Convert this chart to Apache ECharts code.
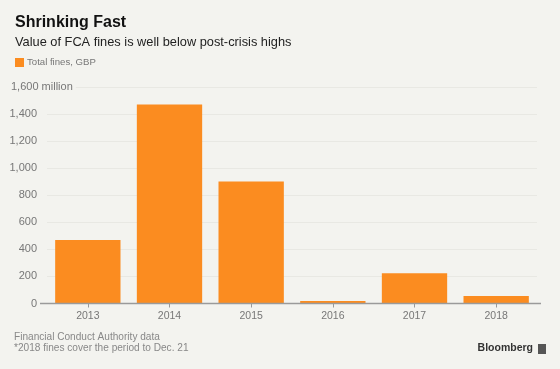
<!DOCTYPE html>
<html><head><meta charset="utf-8">
<script src="https://cdn.jsdelivr.net/npm/echarts@6/dist/echarts.min.js"></script>
<style>html,body{margin:0;padding:0;background:#f3f3ef;}#c{width:560px;height:369px;}</style>
</head><body><div id="c"></div>
<script>
const categories = ['2013','2014','2015','2016','2017','2018'];
const fines = [470, 1470, 902, 18, 224, 56];
const yTicks = [0, 200, 400, 600, 800, 1000, 1200, 1400, 1600];
const seriesName = 'Total fines, GBP';

const FONT = '"Liberation Sans", Arial, Helvetica, sans-serif';
const chart = echarts.init(document.getElementById('c'));
const gridTop = 87, gridBottom = 65.5;
chart.setOption({
  backgroundColor: '#f3f3ef',
  animation: false,
  textStyle: { fontFamily: FONT },
  grid: { left: 47, right: 23, top: gridTop, bottom: gridBottom, containLabel: false },
  xAxis: {
    type: 'category', data: categories,
    axisLine: { show: false },
    axisTick: { show: true, alignWithLabel: true, length: 4, lineStyle: { color: '#999' } },
    axisLabel: { color: '#777', fontSize: 10.5, fontFamily: FONT, margin: 7 }
  },
  yAxis: {
    type: 'value', min: yTicks[0], max: yTicks[yTicks.length-1], interval: 200,
    axisLine: { show: false }, axisTick: { show: false },
    splitLine: { lineStyle: { color: '#e8e8e3', width: 1 } },
    axisLabel: {
      color: '#777', fontSize: 11, fontFamily: FONT, margin: 10,
      formatter: v => v === yTicks[yTicks.length-1] ? '' : v.toLocaleString('en-US')
    }
  },
  series: [{
    name: seriesName, type: 'bar', data: fines, barCategoryGap: '20%',
    itemStyle: { color: '#fb8c20' }
  }],
  graphic: [
    { type: 'text', left: 15, top: 15, style: { text: 'Shrinking Fast', font: 'bold 16px ' + FONT, fill: '#111' } },
    { type: 'text', left: 15, top: 36, style: { text: 'Value of FCA fines is well below post-crisis highs', font: '12.8px ' + FONT, fill: '#222' } },
    { type: 'rect', shape: { x: 15, y: 58, width: 9, height: 9 }, style: { fill: '#fb8c20' } },
    { type: 'text', left: 27, top: 57.5, style: { text: seriesName, font: '9.6px ' + FONT, fill: '#777' } },
    { type: 'text', left: 11, top: 81, z: 20, style: { text: yTicks[yTicks.length-1].toLocaleString('en-US') + ' million', font: '11px ' + FONT, fill: '#777', backgroundColor: '#f3f3ef', padding: [0, 3, 0, 0] } },
    { type: 'line', shape: { x1: 40, y1: 369 - gridBottom, x2: 541, y2: 369 - gridBottom }, style: { stroke: '#9a9a9a', lineWidth: 1.5 }, z: 10 },
    { type: 'text', left: 14, top: 332, style: { text: 'Financial Conduct Authority data', font: '10.1px ' + FONT, fill: '#888' } },
    { type: 'text', left: 14, top: 343.5, style: { text: '*2018 fines cover the period to Dec. 21', font: '10.1px ' + FONT, fill: '#888' } },
    { type: 'text', right: 27, top: 343, style: { text: 'Bloomberg', font: 'bold 10.5px ' + FONT, fill: '#333' } },
    { type: 'rect', shape: { x: 538, y: 344, width: 8, height: 10 }, style: { fill: '#555' } }
  ]
});
</script></body></html>
